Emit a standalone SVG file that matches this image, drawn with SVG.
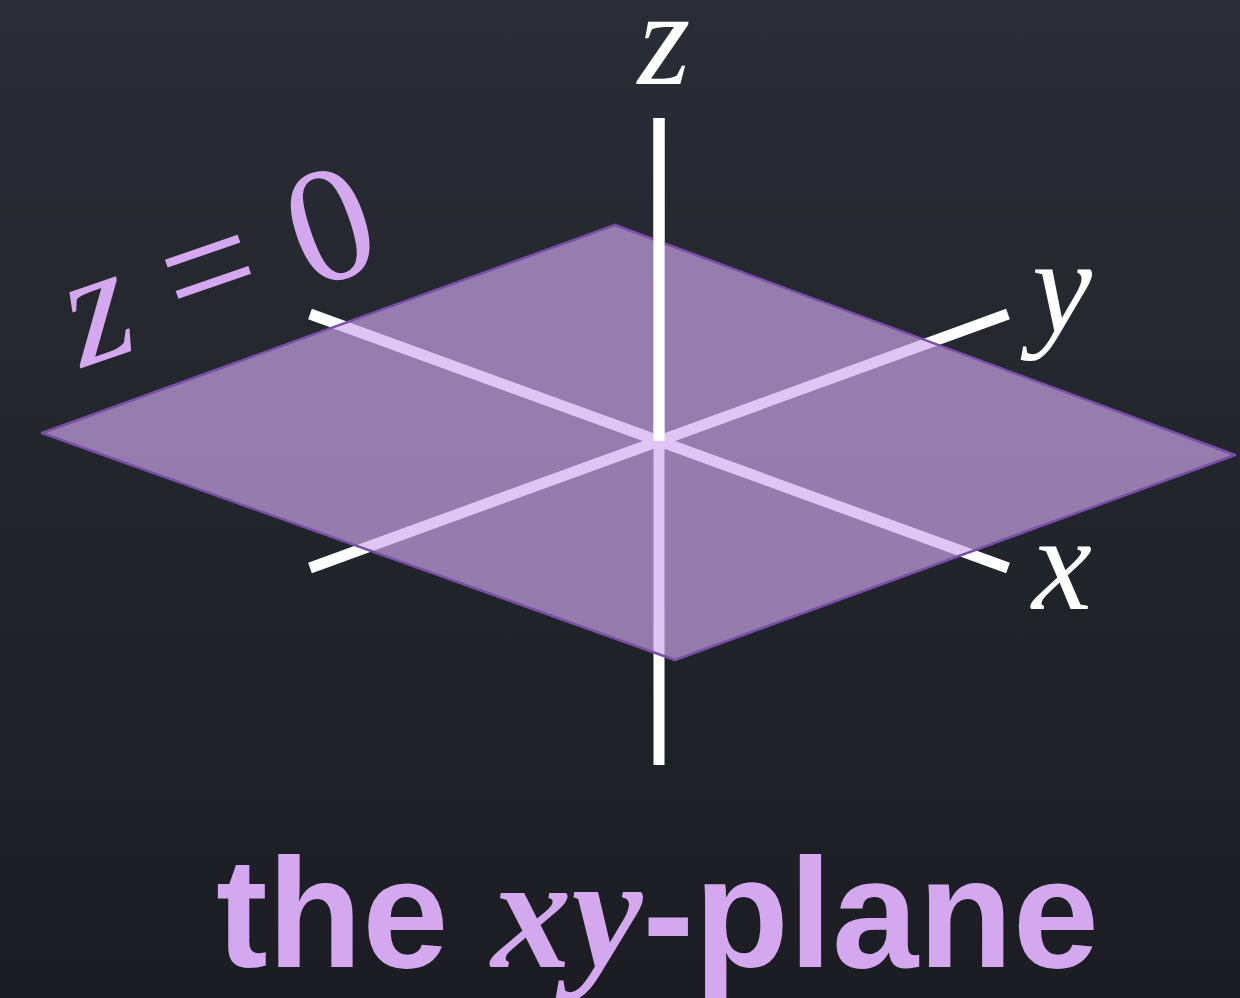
<svg xmlns="http://www.w3.org/2000/svg" width="1240" height="998" viewBox="0 0 1240 998">
  <defs>
    <linearGradient id="bg" x1="0" y1="0" x2="0" y2="1">
      <stop offset="0" stop-color="#2a2d35"/>
      <stop offset="1" stop-color="#1b1d23"/>
    </linearGradient>
  </defs>
  <style>
    .axis { stroke: #ffffff; stroke-width: 11; fill: none; }
    .lbl { font-family: "Liberation Serif", "Times New Roman", serif; font-style: italic; fill: #ffffff; font-size: 135px; }
    .purple { fill: #d4a8ee; }
    .plane { fill: #d0a8ee; fill-opacity: 0.667; stroke: #7a4fa8; stroke-width: 2.5; stroke-linejoin: round; }
    .title { font-family: "Liberation Sans", Arial, sans-serif; font-weight: bold; font-size: 155px; fill: #d4a8ee; }
  </style>
  <rect width="1240" height="998" fill="url(#bg)"/>

  <g id="axes-back">
    <line class="axis" x1="659" y1="118" x2="659" y2="765"/>
    <line class="axis" x1="310" y1="314" x2="1008" y2="568"/>
    <line class="axis" x1="310" y1="568" x2="1008" y2="314"/>
  </g>

  <g id="plane">
    <polygon class="plane" points="615,225 1235,455 675,660 42,433"/>
  </g>

  <g id="axes-front">
    <line class="axis" x1="659" y1="118" x2="659" y2="441"/>
  </g>

  <g id="labels">
    <text class="lbl" x="664" y="84" text-anchor="middle">z</text>
    <text class="lbl" x="1032" y="332">y</text>
    <text class="lbl" x="1032" y="609">x</text>
  </g>

  <g id="equation">
    <text class="purple" font-family="'Liberation Serif', 'Times New Roman', serif" font-size="165" transform="translate(82,368) rotate(-19)"><tspan font-style="italic">z</tspan> = 0</text>
  </g>

  <g id="title">
    <text class="title" x="216" y="967">the <tspan font-family="'Liberation Serif', 'Times New Roman', serif" font-style="italic" font-weight="bold" font-size="160">xy</tspan>-plane</text>
  </g>
</svg>
